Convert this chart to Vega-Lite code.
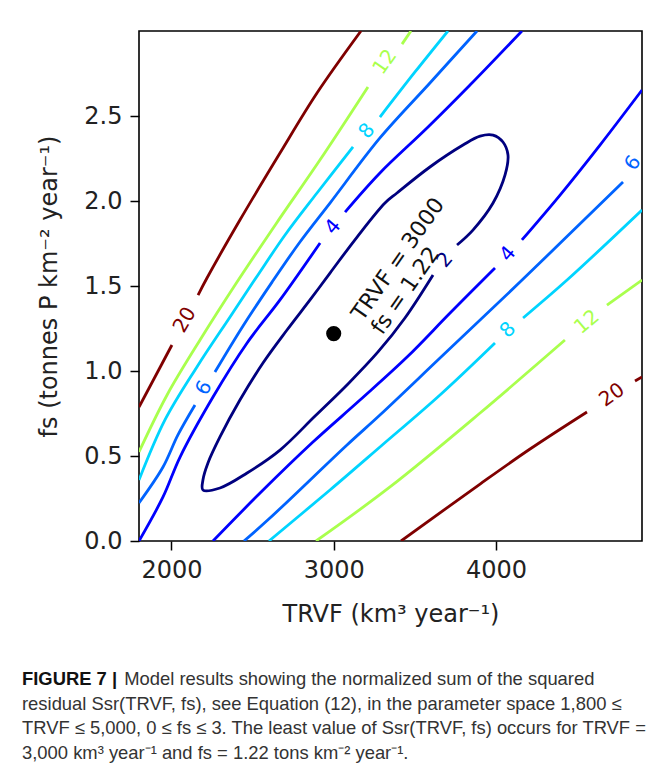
{
  "$schema": "https://vega.github.io/schema/vega-lite/v6.json",
  "width": 503,
  "height": 510,
  "autosize": {"type": "none"},
  "padding": {"left": 139, "top": 31, "right": 13, "bottom": 232},
  "background": "white",
  "config": {
    "view": {"stroke": "#000", "strokeWidth": 1.6},
    "axis": {
      "grid": false, "domain": false,
      "labelFont": "DejaVu Sans", "labelFontSize": 24, "labelColor": "#222",
      "tickColor": "#000", "tickWidth": 1.5, "tickSize": 9, "labelPadding": 8,
      "titleFont": "DejaVu Sans", "titleFontSize": 24, "titleFontWeight": "normal", "titleColor": "#222"
    }
  },
  "title": {
    "text": "FIGURE 7 |",
    "subtitle": [
      "\u200b\u00a0\u00a0\u00a0\u00a0\u00a0\u00a0\u00a0\u00a0\u00a0\u00a0\u00a0\u00a0\u00a0\u00a0\u00a0\u00a0\u00a0\u00a0\u00a0\u00a0Model results showing the normalized sum of the squared",
      "residual Ssr(TRVF, fs), see Equation (12), in the parameter space 1,800 ≤",
      "TRVF ≤ 5,000, 0 ≤ fs ≤ 3. The least value of Ssr(TRVF, fs) occurs for TRVF =",
      "3,000 km³ year⁻¹ and fs = 1.22 tons km⁻² year⁻¹."
    ],
    "orient": "bottom",
    "anchor": "start",
    "frame": "group",
    "dx": -117,
    "offset": 44,
    "font": "Liberation Sans",
    "fontSize": 18.4,
    "fontWeight": "bold",
    "color": "#111",
    "subtitleFont": "Liberation Sans",
    "subtitleFontSize": 18.4,
    "subtitleFontWeight": "normal",
    "subtitleColor": "#333",
    "subtitleLineHeight": 24.7,
    "subtitlePadding": -18.4
  },
  "datasets": {
    "lines": [
      {"seg": "20a", "level": "20", "o": 1, "TRVF": 3168, "fs": 3.0},
      {"seg": "20a", "level": "20", "o": 2, "TRVF": 2897, "fs": 2.635},
      {"seg": "20a", "level": "20", "o": 3, "TRVF": 2669, "fs": 2.282},
      {"seg": "20a", "level": "20", "o": 4, "TRVF": 2422, "fs": 1.888},
      {"seg": "20a", "level": "20", "o": 5, "TRVF": 2219, "fs": 1.547},
      {"seg": "20a", "level": "20", "o": 6, "TRVF": 2164, "fs": 1.447},
      {"seg": "20b", "level": "20", "o": 1, "TRVF": 2003, "fs": 1.153},
      {"seg": "20b", "level": "20", "o": 2, "TRVF": 1800, "fs": 0.788},
      {"seg": "12a", "level": "12", "o": 1, "TRVF": 3476, "fs": 3.0},
      {"seg": "12a", "level": "12", "o": 2, "TRVF": 3421, "fs": 2.923},
      {"seg": "12b", "level": "12", "o": 1, "TRVF": 3211, "fs": 2.671},
      {"seg": "12b", "level": "12", "o": 2, "TRVF": 2915, "fs": 2.241},
      {"seg": "12b", "level": "12", "o": 3, "TRVF": 2644, "fs": 1.865},
      {"seg": "12b", "level": "12", "o": 4, "TRVF": 2404, "fs": 1.523},
      {"seg": "12b", "level": "12", "o": 5, "TRVF": 2176, "fs": 1.182},
      {"seg": "12b", "level": "12", "o": 6, "TRVF": 1973, "fs": 0.859},
      {"seg": "12b", "level": "12", "o": 7, "TRVF": 1800, "fs": 0.524},
      {"seg": "8a", "level": "8", "o": 1, "TRVF": 3704, "fs": 3.0},
      {"seg": "8a", "level": "8", "o": 2, "TRVF": 3501, "fs": 2.759},
      {"seg": "8a", "level": "8", "o": 3, "TRVF": 3285, "fs": 2.494},
      {"seg": "8b", "level": "8", "o": 1, "TRVF": 3119, "fs": 2.318},
      {"seg": "8b", "level": "8", "o": 2, "TRVF": 2897, "fs": 2.047},
      {"seg": "8b", "level": "8", "o": 3, "TRVF": 2700, "fs": 1.8},
      {"seg": "8b", "level": "8", "o": 4, "TRVF": 2533, "fs": 1.565},
      {"seg": "8b", "level": "8", "o": 5, "TRVF": 2361, "fs": 1.318},
      {"seg": "8b", "level": "8", "o": 6, "TRVF": 2157, "fs": 1.024},
      {"seg": "8b", "level": "8", "o": 7, "TRVF": 1960, "fs": 0.712},
      {"seg": "8b", "level": "8", "o": 8, "TRVF": 1800, "fs": 0.359},
      {"seg": "6a", "level": "6", "o": 1, "TRVF": 3883, "fs": 3.0},
      {"seg": "6a", "level": "6", "o": 2, "TRVF": 3593, "fs": 2.694},
      {"seg": "6a", "level": "6", "o": 3, "TRVF": 3285, "fs": 2.371},
      {"seg": "6a", "level": "6", "o": 4, "TRVF": 2977, "fs": 1.988},
      {"seg": "6a", "level": "6", "o": 5, "TRVF": 2792, "fs": 1.759},
      {"seg": "6a", "level": "6", "o": 6, "TRVF": 2620, "fs": 1.523},
      {"seg": "6a", "level": "6", "o": 7, "TRVF": 2441, "fs": 1.265},
      {"seg": "6a", "level": "6", "o": 8, "TRVF": 2268, "fs": 0.994},
      {"seg": "6b", "level": "6", "o": 1, "TRVF": 2145, "fs": 0.8},
      {"seg": "6b", "level": "6", "o": 2, "TRVF": 2040, "fs": 0.624},
      {"seg": "6b", "level": "6", "o": 3, "TRVF": 1948, "fs": 0.435},
      {"seg": "6b", "level": "6", "o": 4, "TRVF": 1800, "fs": 0.224},
      {"seg": "4a", "level": "4", "o": 1, "TRVF": 4160, "fs": 3.0},
      {"seg": "4a", "level": "4", "o": 2, "TRVF": 3840, "fs": 2.682},
      {"seg": "4a", "level": "4", "o": 3, "TRVF": 3575, "fs": 2.429},
      {"seg": "4a", "level": "4", "o": 4, "TRVF": 3285, "fs": 2.165},
      {"seg": "4a", "level": "4", "o": 5, "TRVF": 3070, "fs": 1.935},
      {"seg": "4b", "level": "4", "o": 1, "TRVF": 2916, "fs": 1.753},
      {"seg": "4b", "level": "4", "o": 2, "TRVF": 2669, "fs": 1.418},
      {"seg": "4b", "level": "4", "o": 3, "TRVF": 2466, "fs": 1.165},
      {"seg": "4b", "level": "4", "o": 4, "TRVF": 2256, "fs": 0.847},
      {"seg": "4b", "level": "4", "o": 5, "TRVF": 2053, "fs": 0.494},
      {"seg": "4b", "level": "4", "o": 6, "TRVF": 1948, "fs": 0.259},
      {"seg": "4b", "level": "4", "o": 7, "TRVF": 1800, "fs": 0.0},
      {"seg": "2", "level": "2", "o": 1, "TRVF": 3760, "fs": 1.741},
      {"seg": "2", "level": "2", "o": 2, "TRVF": 3858, "fs": 1.829},
      {"seg": "2", "level": "2", "o": 3, "TRVF": 3982, "fs": 1.988},
      {"seg": "2", "level": "2", "o": 4, "TRVF": 4056, "fs": 2.153},
      {"seg": "2", "level": "2", "o": 5, "TRVF": 4074, "fs": 2.271},
      {"seg": "2", "level": "2", "o": 6, "TRVF": 4043, "fs": 2.347},
      {"seg": "2", "level": "2", "o": 7, "TRVF": 3982, "fs": 2.388},
      {"seg": "2", "level": "2", "o": 8, "TRVF": 3902, "fs": 2.382},
      {"seg": "2", "level": "2", "o": 9, "TRVF": 3797, "fs": 2.329},
      {"seg": "2", "level": "2", "o": 10, "TRVF": 3593, "fs": 2.2},
      {"seg": "2", "level": "2", "o": 11, "TRVF": 3390, "fs": 2.047},
      {"seg": "2", "level": "2", "o": 12, "TRVF": 3316, "fs": 1.988},
      {"seg": "2", "level": "2", "o": 13, "TRVF": 3144, "fs": 1.788},
      {"seg": "2", "level": "2", "o": 14, "TRVF": 2977, "fs": 1.576},
      {"seg": "2", "level": "2", "o": 15, "TRVF": 2854, "fs": 1.418},
      {"seg": "2", "level": "2", "o": 16, "TRVF": 2712, "fs": 1.241},
      {"seg": "2", "level": "2", "o": 17, "TRVF": 2564, "fs": 1.047},
      {"seg": "2", "level": "2", "o": 18, "TRVF": 2422, "fs": 0.829},
      {"seg": "2", "level": "2", "o": 19, "TRVF": 2299, "fs": 0.612},
      {"seg": "2", "level": "2", "o": 20, "TRVF": 2225, "fs": 0.459},
      {"seg": "2", "level": "2", "o": 21, "TRVF": 2194, "fs": 0.359},
      {"seg": "2", "level": "2", "o": 22, "TRVF": 2194, "fs": 0.3},
      {"seg": "2", "level": "2", "o": 23, "TRVF": 2299, "fs": 0.312},
      {"seg": "2", "level": "2", "o": 24, "TRVF": 2466, "fs": 0.4},
      {"seg": "2", "level": "2", "o": 25, "TRVF": 2669, "fs": 0.535},
      {"seg": "2", "level": "2", "o": 26, "TRVF": 2885, "fs": 0.735},
      {"seg": "2", "level": "2", "o": 27, "TRVF": 3088, "fs": 0.924},
      {"seg": "2", "level": "2", "o": 28, "TRVF": 3273, "fs": 1.112},
      {"seg": "2", "level": "2", "o": 29, "TRVF": 3439, "fs": 1.312},
      {"seg": "2", "level": "2", "o": 30, "TRVF": 3612, "fs": 1.565},
      {"seg": "4c", "level": "4", "o": 1, "TRVF": 2256, "fs": 0.0},
      {"seg": "4c", "level": "4", "o": 2, "TRVF": 2546, "fs": 0.282},
      {"seg": "4c", "level": "4", "o": 3, "TRVF": 2872, "fs": 0.582},
      {"seg": "4c", "level": "4", "o": 4, "TRVF": 3162, "fs": 0.829},
      {"seg": "4c", "level": "4", "o": 5, "TRVF": 3452, "fs": 1.082},
      {"seg": "4c", "level": "4", "o": 6, "TRVF": 3717, "fs": 1.341},
      {"seg": "4c", "level": "4", "o": 7, "TRVF": 3994, "fs": 1.606},
      {"seg": "4d", "level": "4", "o": 1, "TRVF": 4160, "fs": 1.771},
      {"seg": "4d", "level": "4", "o": 2, "TRVF": 4395, "fs": 2.035},
      {"seg": "4d", "level": "4", "o": 3, "TRVF": 4641, "fs": 2.329},
      {"seg": "4d", "level": "4", "o": 4, "TRVF": 4900, "fs": 2.653},
      {"seg": "6c", "level": "6", "o": 1, "TRVF": 2447, "fs": 0.0},
      {"seg": "6c", "level": "6", "o": 2, "TRVF": 2607, "fs": 0.135},
      {"seg": "6c", "level": "6", "o": 3, "TRVF": 3082, "fs": 0.565},
      {"seg": "6c", "level": "6", "o": 4, "TRVF": 3285, "fs": 0.741},
      {"seg": "6c", "level": "6", "o": 5, "TRVF": 3655, "fs": 1.076},
      {"seg": "6c", "level": "6", "o": 6, "TRVF": 4148, "fs": 1.523},
      {"seg": "6c", "level": "6", "o": 7, "TRVF": 4783, "fs": 2.112},
      {"seg": "8c", "level": "8", "o": 1, "TRVF": 2601, "fs": 0.0},
      {"seg": "8c", "level": "8", "o": 2, "TRVF": 2977, "fs": 0.3},
      {"seg": "8c", "level": "8", "o": 3, "TRVF": 3285, "fs": 0.553},
      {"seg": "8c", "level": "8", "o": 4, "TRVF": 3655, "fs": 0.859},
      {"seg": "8c", "level": "8", "o": 5, "TRVF": 3994, "fs": 1.165},
      {"seg": "8d", "level": "8", "o": 1, "TRVF": 4167, "fs": 1.312},
      {"seg": "8d", "level": "8", "o": 2, "TRVF": 4438, "fs": 1.535},
      {"seg": "8d", "level": "8", "o": 3, "TRVF": 4900, "fs": 1.947},
      {"seg": "12c", "level": "12", "o": 1, "TRVF": 2891, "fs": 0.0},
      {"seg": "12c", "level": "12", "o": 2, "TRVF": 3347, "fs": 0.318},
      {"seg": "12c", "level": "12", "o": 3, "TRVF": 3902, "fs": 0.753},
      {"seg": "12c", "level": "12", "o": 4, "TRVF": 4425, "fs": 1.182},
      {"seg": "12d", "level": "12", "o": 1, "TRVF": 4684, "fs": 1.388},
      {"seg": "12d", "level": "12", "o": 2, "TRVF": 4900, "fs": 1.535},
      {"seg": "20c", "level": "20", "o": 1, "TRVF": 3415, "fs": 0.0},
      {"seg": "20c", "level": "20", "o": 2, "TRVF": 3902, "fs": 0.335},
      {"seg": "20c", "level": "20", "o": 3, "TRVF": 4210, "fs": 0.541},
      {"seg": "20c", "level": "20", "o": 4, "TRVF": 4561, "fs": 0.759},
      {"seg": "20d", "level": "20", "o": 1, "TRVF": 4857, "fs": 0.941},
      {"seg": "20d", "level": "20", "o": 2, "TRVF": 4900, "fs": 0.965}
    ],
    "labels": [
      {"id": "12U", "level": "12", "txt": "12", "TRVF": 3316, "fs": 2.818},
      {"id": "8U", "level": "8", "txt": "8", "TRVF": 3205, "fs": 2.412},
      {"id": "4U", "level": "4", "txt": "4", "TRVF": 2996, "fs": 1.847},
      {"id": "20L", "level": "20", "txt": "20", "TRVF": 2083, "fs": 1.3},
      {"id": "6L", "level": "6", "txt": "6", "TRVF": 2200, "fs": 0.9},
      {"id": "2", "level": "2", "txt": "2", "TRVF": 3686, "fs": 1.653},
      {"id": "4R", "level": "4", "txt": "4", "TRVF": 4074, "fs": 1.688},
      {"id": "6R", "level": "6", "txt": "6", "TRVF": 4845, "fs": 2.223},
      {"id": "8R", "level": "8", "txt": "8", "TRVF": 4074, "fs": 1.241},
      {"id": "12R", "level": "12", "txt": "12", "TRVF": 4561, "fs": 1.288},
      {"id": "20R", "level": "20", "txt": "20", "TRVF": 4715, "fs": 0.859}
    ],
    "best": [
      {"TRVF": 3000, "fs": 1.22, "note": ["TRVF = 3000", "fs = 1.22"]}
    ]
  },
  "layer": [
    {
      "data": {"name": "lines"},
      "mark": {"type": "line", "strokeWidth": 2.8, "interpolate": "catmull-rom", "clip": true},
      "encoding": {
        "x": {"field": "TRVF", "type": "quantitative",
              "scale": {"domain": [1800, 4900], "nice": false, "zero": false},
              "axis": {"values": [2000, 3000, 4000], "format": "d", "title": "TRVF (km³ year⁻¹)", "titlePadding": 20}},
        "y": {"field": "fs", "type": "quantitative",
              "scale": {"domain": [0, 3], "nice": false, "zero": false},
              "axis": {"values": [0, 0.5, 1, 1.5, 2, 2.5], "format": ".1f", "title": "fs (tonnes P km⁻² year⁻¹)", "titlePadding": 22}},
        "color": {"field": "level", "type": "nominal",
                  "scale": {"domain": ["2", "4", "6", "8", "12", "20"],
                            "range": ["#00007f", "#0000fe", "#0063ff", "#00d4ff", "#a9ff4d", "#7f0000"]},
                  "legend": null},
        "detail": {"field": "seg"},
        "order": {"field": "o", "type": "quantitative"}
      }
    },
    {
      "data": {"name": "labels"},
      "transform": [{"filter": "indexof(['20L','6L'], datum.id) >= 0"}],
      "mark": {"type": "text", "font": "DejaVu Sans", "fontSize": 20, "angle": -60, "align": "center", "baseline": "middle"},
      "encoding": {
        "x": {"field": "TRVF", "type": "quantitative"},
        "y": {"field": "fs", "type": "quantitative"},
        "text": {"field": "txt"},
        "color": {"field": "level", "type": "nominal", "legend": null}
      }
    },
    {
      "data": {"name": "labels"},
      "transform": [{"filter": "indexof(['12U','6R'], datum.id) >= 0"}],
      "mark": {"type": "text", "font": "DejaVu Sans", "fontSize": 20, "angle": -55, "align": "center", "baseline": "middle"},
      "encoding": {
        "x": {"field": "TRVF", "type": "quantitative"},
        "y": {"field": "fs", "type": "quantitative"},
        "text": {"field": "txt"},
        "color": {"field": "level", "type": "nominal", "legend": null}
      }
    },
    {
      "data": {"name": "labels"},
      "transform": [{"filter": "indexof(['8U','4U','2','4R'], datum.id) >= 0"}],
      "mark": {"type": "text", "font": "DejaVu Sans", "fontSize": 20, "angle": -50, "align": "center", "baseline": "middle"},
      "encoding": {
        "x": {"field": "TRVF", "type": "quantitative"},
        "y": {"field": "fs", "type": "quantitative"},
        "text": {"field": "txt"},
        "color": {"field": "level", "type": "nominal", "legend": null}
      }
    },
    {
      "data": {"name": "labels"},
      "transform": [{"filter": "datum.id == '8R'"}],
      "mark": {"type": "text", "font": "DejaVu Sans", "fontSize": 20, "angle": -45, "align": "center", "baseline": "middle"},
      "encoding": {
        "x": {"field": "TRVF", "type": "quantitative"},
        "y": {"field": "fs", "type": "quantitative"},
        "text": {"field": "txt"},
        "color": {"field": "level", "type": "nominal", "legend": null}
      }
    },
    {
      "data": {"name": "labels"},
      "transform": [{"filter": "datum.id == '12R'"}],
      "mark": {"type": "text", "font": "DejaVu Sans", "fontSize": 20, "angle": -40, "align": "center", "baseline": "middle"},
      "encoding": {
        "x": {"field": "TRVF", "type": "quantitative"},
        "y": {"field": "fs", "type": "quantitative"},
        "text": {"field": "txt"},
        "color": {"field": "level", "type": "nominal", "legend": null}
      }
    },
    {
      "data": {"name": "labels"},
      "transform": [{"filter": "datum.id == '20R'"}],
      "mark": {"type": "text", "font": "DejaVu Sans", "fontSize": 20, "angle": -35, "align": "center", "baseline": "middle"},
      "encoding": {
        "x": {"field": "TRVF", "type": "quantitative"},
        "y": {"field": "fs", "type": "quantitative"},
        "text": {"field": "txt"},
        "color": {"field": "level", "type": "nominal", "legend": null}
      }
    },
    {
      "data": {"name": "best"},
      "mark": {"type": "point", "filled": true, "color": "#000", "opacity": 1, "size": 230},
      "encoding": {
        "x": {"field": "TRVF", "type": "quantitative"},
        "y": {"field": "fs", "type": "quantitative"}
      }
    },
    {
      "data": {"name": "best"},
      "mark": {"type": "text", "font": "DejaVu Sans", "fontSize": 22, "angle": -55, "align": "left", "baseline": "alphabetic", "lineHeight": 24, "dx": 26, "dy": 17, "color": "#111"},
      "encoding": {
        "x": {"field": "TRVF", "type": "quantitative"},
        "y": {"field": "fs", "type": "quantitative"},
        "text": {"field": "note"}
      }
    }
  ]
}
